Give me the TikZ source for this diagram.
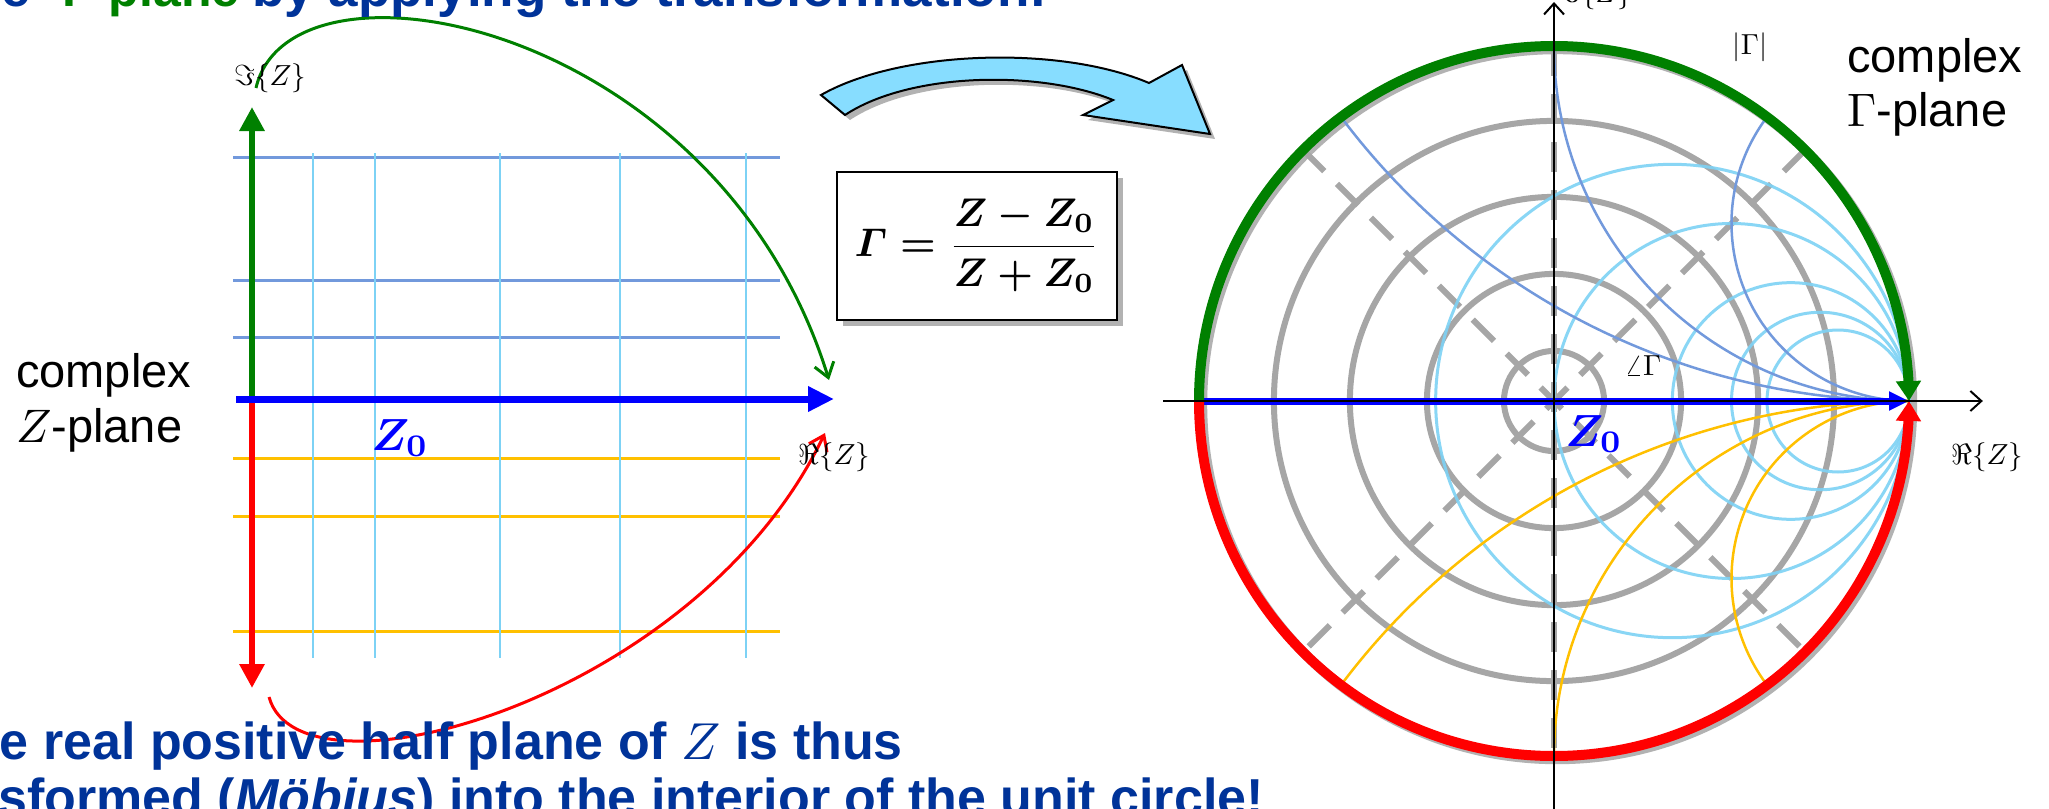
\documentclass[tikz,border=0pt]{standalone}
\usepackage{amsmath}
\usepackage{graphicx}
\usepackage[no-math]{fontspec}
\newfontfamily\arial{Liberation Sans}
\usetikzlibrary{arrows.meta,bending}
\definecolor{tblue}{RGB}{0,51,153}
\definecolor{dgreen}{RGB}{0,128,0}
\definecolor{gridx}{RGB}{114,153,220}
\definecolor{gridr}{RGB}{125,210,245}
\definecolor{gorange}{RGB}{255,192,0}
\definecolor{ggray}{RGB}{166,166,166}
\definecolor{arrowfill}{RGB}{135,221,255}
\newcommand{\fatarrowpath}{(821,95) .. controls (900,50) and (1060,45) .. (1149,83)
  -- (1182,65) -- (1210,134) -- (1083,115) -- (1113,100)
  .. controls (1040,70) and (910,72) .. (845,115) -- cycle}
\newcommand{\sm}[2]{\scalebox{#1}{\fontsize{10}{12}\selectfont #2}}
\newcommand{\bzo}{\sm{4.5}{\boldmath$Z_0$}}
\begin{document}
\begin{tikzpicture}[x=1pt,y=-1pt,
  ttext/.style={font=\arial\bfseries\fontsize{52}{60}\selectfont, text=tblue, inner sep=0pt},
  lbl/.style={inner sep=0pt},
  plainlbl/.style={font=\arial\fontsize{47}{54}\selectfont, inner sep=0pt},
  zlbl/.style={text=blue, inner sep=0pt},
  hgrid/.style={gridx, line width=3pt},
  ogrid/.style={gorange, line width=3pt},
  vgrid/.style={gridr, line width=2.5pt},
  bigtri/.style={-{Triangle[length=24pt,width=24pt]}},
  barb/.style={-{Straight Barb[length=14pt,width=20pt]}},
  shadowfill/.style={fill=black, opacity=0.3}
]
\useasboundingbox (0,0) rectangle (2049,808);
\fill[white] (0,0) rectangle (2049,808);
\clip (0,0) rectangle (2049,808);

% ---------------- left: Z-plane ----------------
\foreach \y in {157,280,337} \draw[hgrid] (233,\y) -- (780,\y);
\foreach \y in {458,516,631} \draw[ogrid] (233,\y) -- (780,\y);
\foreach \x in {313,375,500,620,746} \draw[vgrid] (\x,153) -- (\x,658);

\coordinate (O) at (252,399);
\coordinate (gtop) at (252,107);
\coordinate (rbot) at (252,688);
\coordinate (bstart) at (236,399);
\coordinate (bend) at (834,399);
\draw[dgreen, line width=6pt, bigtri] (O) -- (gtop);
\draw[red, line width=6pt, bigtri] (O) -- (rbot);
\draw[blue, line width=7pt, -{Triangle[length=26pt,width=24pt]}] (bstart) -- (bend);

\coordinate (gs) at (256,88);
\coordinate (ge) at (829,380);
\coordinate (rs) at (269,697);
\coordinate (re) at (825,433);
\draw[dgreen, line width=3pt, barb] (gs) .. controls (290,-60) and (720,20) .. (ge);
\draw[red, line width=3pt, barb] (rs) .. controls (300,810) and (700,700) .. (re);

\node[lbl] (imZ) at (270,78) {\sm{2.9}{$\Im\{Z\}$}};
\node[lbl] (reZ) at (834,457) {\sm{2.9}{$\Re\{Z\}$}};
\node[zlbl] (z0l) at (400,438) {\bzo};
\node[plainlbl, anchor=base west] (cz1) at (16,387) {complex};
\node[plainlbl, anchor=base west] (cz2) at (16,442) {\sm{4.7}{$Z$}-plane};

% ---------------- transformation arrow & formula ----------------
\begin{scope}[shift={(5,5)}]
  \fill[shadowfill] \fatarrowpath;
\end{scope}
\filldraw[fill=arrowfill, draw=black, line width=2pt, line join=miter] \fatarrowpath;

\fill[shadowfill] (843,178) rectangle (1123,326);
\node[draw, line width=2pt, fill=white, minimum width=280pt, minimum height=148pt, inner sep=0pt] (fbox) at (977,246) {\sm{4.0}{\boldmath$\displaystyle \varGamma = \frac{Z - Z_0}{Z + Z_0}$}};

% ---------------- right: Gamma-plane ----------------
\begin{scope}[shift={(1554,401)}, x=355pt, y=355pt]
  \draw[black!30, line width=10pt] (0.009,-0.009) circle[radius=1];
  \foreach \r in {0.141,0.358,0.575,0.789}
    \draw[ggray, line width=6pt] (0,0) circle[radius=\r];
  \draw[ggray, line width=6pt, dash pattern=on 30pt off 18pt] (135:1) -- (-45:1);
  \draw[ggray, line width=6pt, dash pattern=on 30pt off 18pt] (45:1) -- (225:1);
  \draw[ggray, line width=6pt, dash pattern=on 30pt off 18pt] (90:1) -- (270:1);
  \foreach \r in {0.5,1,2,3,4}
    \draw[gridr, line width=3pt, opacity=0.9] ({\r/(1+\r)},0) circle[radius={1/(1+\r)}];
  \draw[gridx, line width=2.5pt] (0,1) arc[start angle=180, end angle=270, radius=1];
  \draw[gridx, line width=2.5pt] (0.6,0.8) arc[start angle=143.13, end angle=270, radius=0.5];
  \draw[gridx, line width=2.5pt] (-0.6,0.8) arc[start angle=216.87, end angle=270, radius=2];
  \draw[gorange, line width=2.5pt] (0,-1) arc[start angle=180, end angle=90, radius=1];
  \draw[gorange, line width=2.5pt] (0.6,-0.8) arc[start angle=216.87, end angle=90, radius=0.5];
  \draw[gorange, line width=2.5pt] (-0.6,-0.8) arc[start angle=143.13, end angle=90, radius=2];
  \coordinate (L) at (-1,0);
  \coordinate (Rr) at (1,0);
  \draw[blue, line width=7pt, -{Triangle[length=20pt,width=18pt]}] (L) -- (Rr);
  \draw[dgreen, line width=10pt, -{Triangle[length=20pt,width=24pt]}] (L) arc[start angle=180, end angle=0, radius=1];
  \draw[red, line width=10pt, -{Triangle[length=20pt,width=24pt]}] (L) arc[start angle=180, end angle=360, radius=1];
  \coordinate (ax1) at (-1.101,0);
  \coordinate (ax2) at (1.208,0);
  \coordinate (ay1) at (0,-1.16);
  \coordinate (ay2) at (0,1.124);
  \draw[black, line width=2pt, -{Straight Barb[length=11pt,width=20pt]}] (ax1) -- (ax2);
  \draw[black, line width=2pt, -{Straight Barb[length=11pt,width=20pt]}] (ay1) -- (ay2);
\end{scope}

\node[lbl, anchor=south west] (imZr) at (1560,10) {\sm{2.9}{$\Im\{Z\}$}};
\node[lbl] (reZr) at (1987,457) {\sm{2.9}{$\Re\{Z\}$}};
\node[lbl] (absG) at (1750,47) {\sm{2.9}{$|\Gamma|$}};
\node[lbl] (angG) at (1643,366) {\sm{2.9}{$\angle\Gamma$}};
\node[zlbl] (z0r) at (1594,434) {\bzo};
\node[plainlbl, anchor=base west] (cg1) at (1847,72) {complex};
\node[plainlbl, anchor=base west] (cg2) at (1847,126) {\sm{4.7}{$\Gamma$}-plane};

% ---------------- cut-off title text ----------------
\node[ttext, anchor=base east] (t1) at (31,7) {the};
\node[ttext, anchor=base west, text=dgreen, font=\arial\bfseries\fontsize{50}{60}\selectfont] (t2) at (62,7) {Γ-plane};
\node[ttext, anchor=base west, font=\arial\bfseries\fontsize{53}{60}\selectfont] (t3) at (252,7) {by applying the transformation:};
\node[ttext, anchor=base west] (b1) at (-64,759) {The real positive half plane of \sm{5.2}{$Z$} is thus};
\node[ttext, anchor=base west] (b2) at (-100,815) {transformed (\textit{Möbius}) into the interior of the unit circle!};
\end{tikzpicture}
\end{document}
